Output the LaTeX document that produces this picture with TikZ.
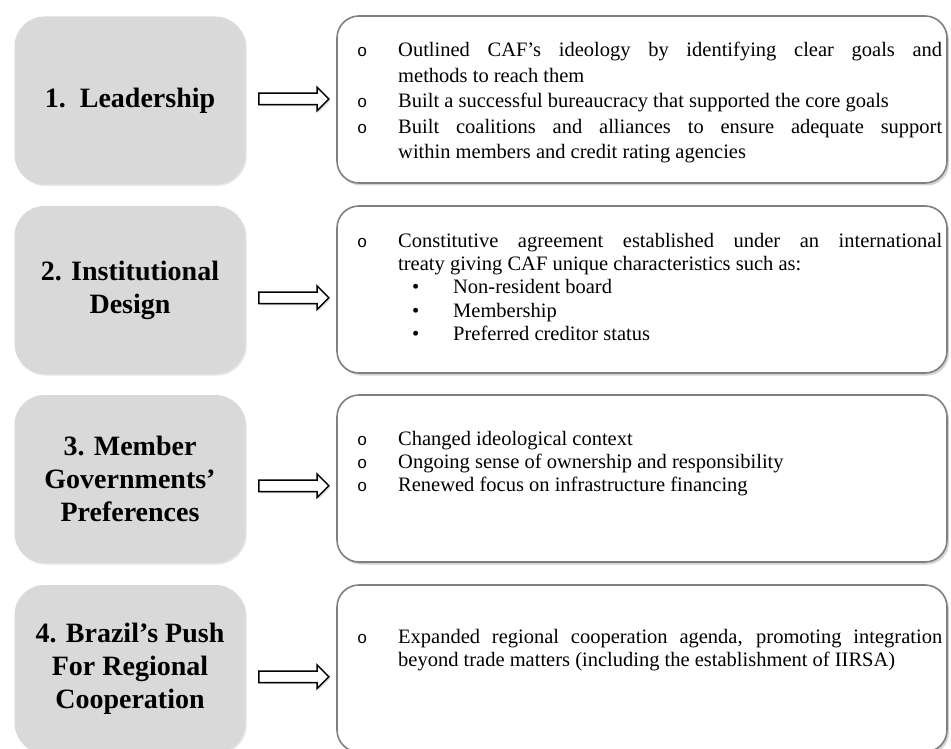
\documentclass[tikz,border=0pt]{standalone}
\usepackage{fontspec}
\setmainfont{Liberation Serif}
\newfontfamily\monofont{Liberation Mono}
\usetikzlibrary{shapes.arrows,shadows,calc}
\definecolor{boxgray}{HTML}{D9D9D9}
\definecolor{edgegray}{HTML}{7F7F7F}
\newcommand{\obul}{\makebox[46pt][l]{\hspace{5pt}{\monofont\fontsize{17}{17}\selectfont o}}}
\newcommand{\sbul}{\makebox[101pt][l]{\hspace{60pt}•}}
\newcommand{\firsto}{\noindent\hangindent=46pt\hangafter=1\obul}
\newcommand{\itemo}{\par\noindent\hangindent=46pt\hangafter=1\obul}
\newcommand{\itemsub}{\par\noindent\hangindent=101pt\hangafter=1\sbul}
\tikzset{
  gbox/.style={fill=boxgray, rounded corners=30pt, minimum width=231pt, minimum height=168pt,
    inner sep=0pt, align=center, font=\bfseries\fontsize{28}{33}\selectfont,
    drop shadow={shadow xshift=1.2pt, shadow yshift=-1.5pt, opacity=0.2}},
  rbox/.style={draw=edgegray, line width=1.6pt, fill=white, rounded corners=22pt,
    minimum width=610pt, minimum height=167pt, inner sep=0pt,
    drop shadow={shadow xshift=2pt, shadow yshift=-2.5pt, opacity=0.35}},
  rtext/.style={anchor=base west, text width=590pt, align=justify, inner sep=0pt,
    font=\fontsize{20.5}{23.5}\selectfont},
  blockarrow/.style={single arrow, draw=black, fill=white, line width=1.5pt,
    minimum height=70pt, minimum width=22pt, single arrow head extend=6pt,
    single arrow head indent=0pt, inner xsep=0pt, inner ysep=5pt,
    drop shadow={shadow xshift=1.5pt, shadow yshift=-1.5pt, opacity=0.3}}
}
\begin{document}
\begin{tikzpicture}[x=1pt, y=-1pt]
\useasboundingbox (0,0) rectangle (951,749);
% left boxes
\node[gbox] (g1) at (130,100.5) {1.\hspace{14pt}Leadership};
\node[gbox] (g2) at (130,290) {2. Institutional\\Design};
\node[gbox] (g3) at (130,479) {3. Member\\Governments’\\Preferences};
\node[gbox] (g4) at (130,669) {4. Brazil’s Push\\For Regional\\Cooperation};
% right boxes
\node[rbox] (r1) at (642,99.5) {};
\node[rbox] (r2) at (642,289.5) {};
\node[rbox] (r3) at (642,478.5) {};
\node[rbox] (r4) at (642,668.5) {};
% texts
\node[rtext, font=\fontsize{20.5}{25.5}\selectfont] (t1) at (352,57) {%
\firsto Outlined CAF’s ideology by identifying clear goals and\linebreak methods to reach them
\itemo Built a successful bureaucracy that supported the core goals
\itemo Built coalitions and alliances to ensure adequate support\linebreak within members and credit rating agencies\par};
\node[rtext] (t2) at (352,247) {%
\firsto Constitutive agreement established under an international\linebreak treaty giving CAF unique characteristics such as:
\itemsub Non-resident board
\itemsub Membership
\itemsub Preferred creditor status\par};
\node[rtext, font=\fontsize{20.5}{23}\selectfont] (t3) at (352,445) {%
\firsto Changed ideological context
\itemo Ongoing sense of ownership and responsibility
\itemo Renewed focus on infrastructure financing\par};
\node[rtext] (t4) at (352,643) {%
\firsto Expanded regional cooperation agenda, promoting integration\linebreak beyond trade matters (including the establishment of IIRSA)\par};
% arrows
\path ([yshift=1pt]g1.east) -- node[blockarrow] (a1) {} ([yshift=1pt]r1.west);
\path ([yshift=-8pt]g2.east) -- node[blockarrow] (a2) {} ([yshift=-8pt]r2.west);
\path ([yshift=-7pt]g3.east) -- node[blockarrow] (a3) {} ([yshift=-7pt]r3.west);
\path ([yshift=-8pt]g4.east) -- node[blockarrow] (a4) {} ([yshift=-8pt]r4.west);
\end{tikzpicture}
\end{document}
